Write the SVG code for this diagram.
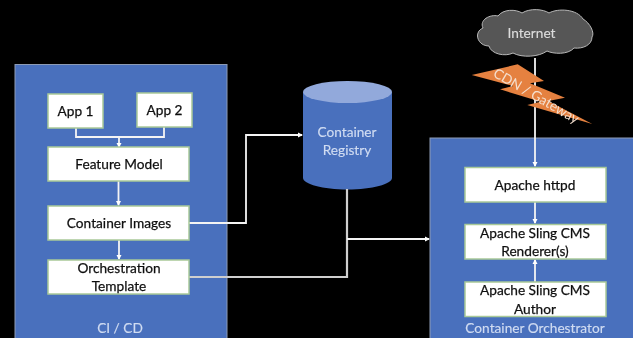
<svg xmlns="http://www.w3.org/2000/svg" width="633" height="338" viewBox="0 0 633 338">
<defs>
<style>
text{font-family:Lato,"Open Sans","Liberation Sans",sans-serif;text-anchor:middle;font-size:13.7px}
.box{fill:#fff;stroke:#a9c998;stroke-width:1.5}
.panel{fill:#4a70bd;stroke:#8d9bb5;stroke-width:1}
.d{fill:#111;stroke:#111;stroke-width:.25}
.l{fill:#d0dcf2;stroke:#d0dcf2;stroke-width:.15}
.c{fill:none;stroke:#f4f4f4;stroke-width:1.8}
.t{stroke-width:2.200;stroke:#cfcfcf}
</style>
<marker id="a" markerWidth="6" markerHeight="6" refX="4" refY="3" orient="auto" markerUnits="userSpaceOnUse"><path d="M0 0.5L5 3L0 5.500Z" fill="#fff"/></marker>
<filter id="s" x="-2%" y="-2%" width="104%" height="104%"><feGaussianBlur stdDeviation="0.65"/></filter>
</defs>
<rect width="633" height="338" fill="#000"/>
<g filter="url(#s)">
<g id="cicd"><rect class="panel" x="15" y="64.500" width="212" height="280"/><text class="l" x="120" y="333">CI / CD</text></g>
<g id="orchestrator"><rect class="panel" x="430" y="138" width="210" height="210"/><text class="l" x="535" y="333">Container Orchestrator</text></g>
<g id="registry">
<path d="M303 92V178C303 184 323 189.500 347.500 189.500S392 184 392 178V92Z" fill="#4a70bd"/>
<ellipse cx="347.500" cy="92" rx="44.500" ry="11" fill="#92a9db"/>
<text class="l" x="347" y="137">Container</text><text class="l" x="347" y="155">Registry</text>
</g>
<g id="connectors">
<path class="c" d="M76 128V137H164V127"/>
<path class="c" marker-end="url(#a)" d="M119 137V147"/>
<path class="c" marker-end="url(#a)" d="M118.500 181V205"/>
<path class="c" marker-end="url(#a)" d="M119 240V259"/>
<path class="c" marker-end="url(#a)" d="M189 223H246V135H302"/>
<path class="c t" d="M189 277H347V189"/>
<path class="c" marker-end="url(#a)" d="M347 239H429"/>
<path class="c" marker-end="url(#a)" d="M535 58V166"/>
<path class="c" marker-end="url(#a)" d="M535 202V223"/>
<path class="c" marker-end="url(#a)" d="M535 282V260"/>
</g>
<g id="cloud">
<path d="M483 28C479 20 490 14 498 16C503 9 516 9 522 13C530 8 543 9 549 13C558 8 577 9 583 19C590 23 595 33 592 37C592 45 583 49 574 48C568 55 553 54 547 51C539 57 522 58 513 53C505 57 491 54 489 46C480 46 476 38 478 33C479 30 481 29 483 28Z" fill="#565656" stroke="#b8b8b8" stroke-width="1"/>
<text x="531.500" y="37.500" fill="#dcdcdc" stroke="#dcdcdc" stroke-width=".15">Internet</text>
</g>
<g id="gateway">
<path d="M471.700 75L517.700 64.300L544 81L530 83.300L565 97.700L548.300 101L592.300 124L527.300 105L540.700 101.700L500 89.300L513.300 86Z" fill="#e5813f"/>
<text x="0" y="0" fill="#f5dfcf" transform="translate(534 100) rotate(30)">CDN / Gateway</text>
</g>
<g id="app1"><rect class="box" x="48" y="94" width="55" height="34"/><text class="d" x="75.500" y="116">App 1</text></g>
<g id="app2"><rect class="box" x="137" y="93" width="55" height="34"/><text class="d" x="164.500" y="115">App 2</text></g>
<g id="feature"><rect class="box" x="48" y="147" width="141" height="34"/><text class="d" x="119" y="169">Feature Model</text></g>
<g id="images"><rect class="box" x="48" y="206" width="141" height="34"/><text class="d" x="119" y="228">Container Images</text></g>
<g id="template"><rect class="box" x="48" y="260" width="141" height="34"/><text class="d" x="119" y="273">Orchestration</text><text class="d" x="119" y="291">Template</text></g>
<g id="httpd"><rect class="box" x="465" y="167.500" width="141" height="34.500"/><text class="d" x="535" y="190">Apache httpd</text></g>
<g id="renderer"><rect class="box" x="465" y="224.500" width="141" height="34.500"/><text class="d" x="535" y="238">Apache Sling CMS</text><text class="d" x="535" y="256">Renderer(s)</text></g>
<g id="author"><rect class="box" x="465" y="282" width="141" height="34.500"/><text class="d" x="535" y="295">Apache Sling CMS</text><text class="d" x="535" y="314">Author</text></g>
</g>
</svg>
